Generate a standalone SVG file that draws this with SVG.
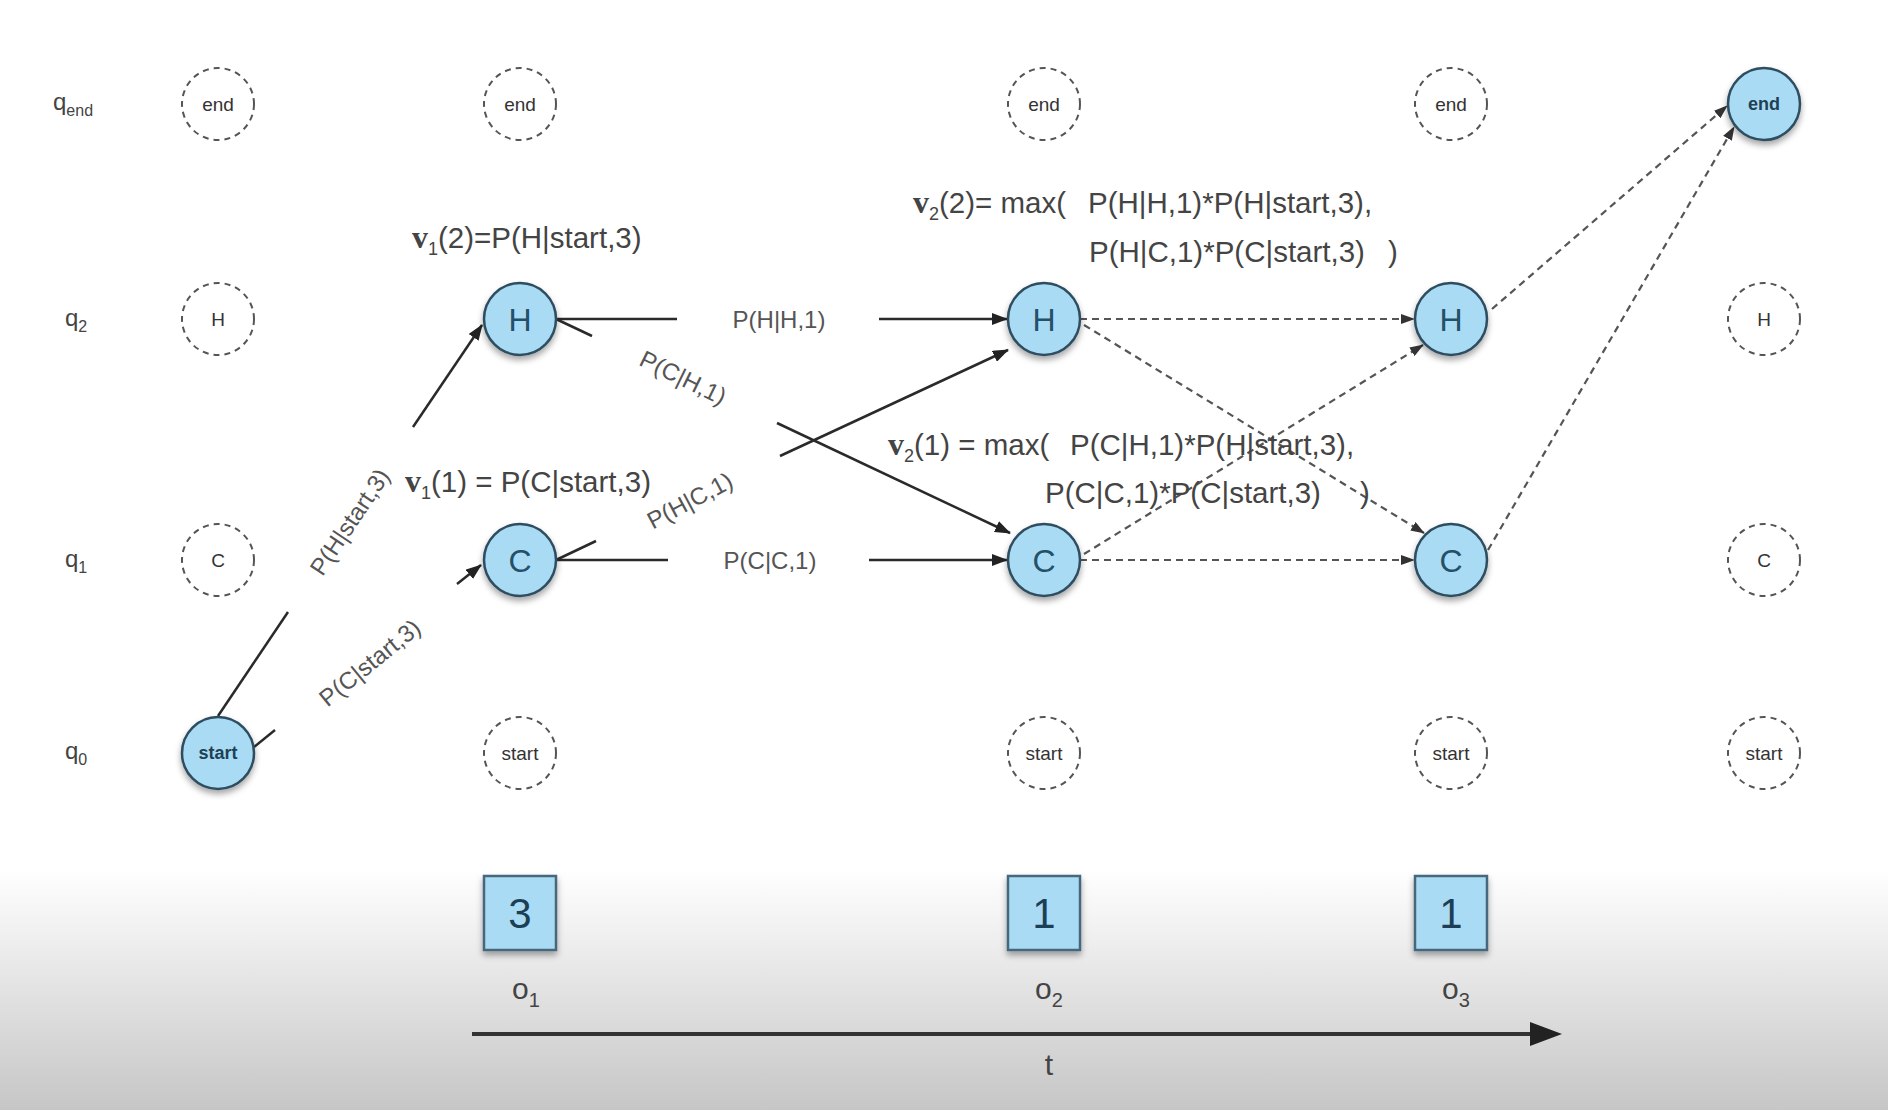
<svg xmlns="http://www.w3.org/2000/svg" width="1888" height="1110" viewBox="0 0 1888 1110">
<defs>
<linearGradient id="bg" x1="0" y1="0" x2="0" y2="1">
<stop offset="0" stop-color="#ffffff"/>
<stop offset="1" stop-color="#c6c6c6"/>
</linearGradient>
<filter id="sh" x="-30%" y="-30%" width="160%" height="170%">
<feDropShadow dx="0" dy="4" stdDeviation="3" flood-color="#000" flood-opacity="0.35"/>
</filter>
<marker id="ah" markerWidth="16" markerHeight="12" refX="15" refY="6" orient="auto" markerUnits="userSpaceOnUse">
<path d="M0,0 L16,6 L0,12 z" fill="#222"/>
</marker>
<marker id="ahd" markerWidth="14" markerHeight="10" refX="13" refY="5" orient="auto" markerUnits="userSpaceOnUse">
<path d="M0,0 L14,5 L0,10 z" fill="#333"/>
</marker>
</defs>
<style>
.dn{fill:none;stroke:#555;stroke-width:2;stroke-dasharray:6 5}
.fn{fill:#a9dcf4;stroke:#2e4d60;stroke-width:2.5;filter:url(#sh)}
.dt{font-family:"Liberation Sans",Arial,sans-serif;font-size:19px;fill:#333;text-anchor:middle}
.ft{font-family:"Liberation Sans",Arial,sans-serif;font-size:32px;fill:#245069;text-anchor:middle}
.fts{font-family:"Liberation Sans",Arial,sans-serif;font-size:18px;font-weight:bold;fill:#1f4055;text-anchor:middle}
.e{stroke:#2a2a2a;stroke-width:2.5;fill:none}
.ed{stroke:#555;stroke-width:2.2;fill:none;stroke-dasharray:7 5}
.lbl{font-family:"Liberation Sans",Arial,sans-serif;font-size:24px;fill:#555;text-anchor:middle}
.ann{font-family:"Liberation Sans",Arial,sans-serif;font-size:29.5px;fill:#444}
.v{font-family:"Liberation Serif",serif;font-weight:bold;font-size:32px}
.q{font-family:"Liberation Sans",Arial,sans-serif;font-size:24px;fill:#444}
.box{fill:#a9dcf4;stroke:#46677c;stroke-width:2.5;filter:url(#sh)}
.bt{font-family:"Liberation Sans",Arial,sans-serif;font-size:42px;fill:#1d3f55;text-anchor:middle}
.o{font-family:"Liberation Sans",Arial,sans-serif;font-size:30px;fill:#444}
</style>
<rect x="0" y="0" width="1888" height="1110" fill="#ffffff"/>
<rect x="0" y="870" width="1888" height="240" fill="url(#bg)"/>

<g id="row-labels">
<text class="q" x="53" y="110">q<tspan font-size="16" dy="6">end</tspan></text>
<text class="q" x="65" y="326">q<tspan font-size="16" dy="6">2</tspan></text>
<text class="q" x="65" y="567">q<tspan font-size="16" dy="6">1</tspan></text>
<text class="q" x="65" y="759">q<tspan font-size="16" dy="6">0</tspan></text>
</g>

<g id="connectors">
<line class="e" x1="218" y1="716" x2="288" y2="612"/>
<line class="e" x1="413" y1="427" x2="482" y2="325" marker-end="url(#ah)"/>
<line class="e" x1="254" y1="747" x2="275" y2="730"/>
<line class="e" x1="457" y1="584" x2="481" y2="565" marker-end="url(#ah)"/>
<line class="e" x1="556" y1="319" x2="677" y2="319"/>
<line class="e" x1="879" y1="319" x2="1007" y2="319" marker-end="url(#ah)"/>
<line class="e" x1="556" y1="319" x2="592" y2="336"/>
<line class="e" x1="777" y1="423" x2="1010" y2="533" marker-end="url(#ah)"/>
<line class="e" x1="556" y1="560" x2="596" y2="541"/>
<line class="e" x1="780" y1="456" x2="1008" y2="350" marker-end="url(#ah)"/>
<line class="e" x1="556" y1="560" x2="668" y2="560"/>
<line class="e" x1="869" y1="560" x2="1007" y2="560" marker-end="url(#ah)"/>
<line class="ed" x1="1080" y1="319" x2="1414" y2="319" marker-end="url(#ahd)"/>
<line class="ed" x1="1084" y1="325" x2="1424" y2="533" marker-end="url(#ahd)"/>
<line class="ed" x1="1084" y1="554" x2="1423" y2="345" marker-end="url(#ahd)"/>
<line class="ed" x1="1080" y1="560" x2="1414" y2="560" marker-end="url(#ahd)"/>
<line class="ed" x1="1492" y1="309" x2="1727" y2="106" marker-end="url(#ahd)"/>
<line class="ed" x1="1488" y1="550" x2="1734" y2="127" marker-end="url(#ahd)"/>
<text class="lbl" x="779" y="328">P(H|H,1)</text>
<text class="lbl" x="770" y="569">P(C|C,1)</text>
<text class="lbl" transform="translate(683,378) rotate(26)" x="0" y="8">P(C|H,1)</text>
<text class="lbl" transform="translate(690,501) rotate(-28)" x="0" y="8">P(H|C,1)</text>
<text class="lbl" transform="translate(350,522) rotate(-56)" x="0" y="8">P(H|start,3)</text>
<text class="lbl" transform="translate(370,663) rotate(-39)" x="0" y="8">P(C|start,3)</text>
</g>

<g id="node-end-1"><circle class="dn" cx="218" cy="104" r="36"/><text class="dt" x="218" y="111">end</text></g>
<g id="node-H-1"><circle class="dn" cx="218" cy="319" r="36"/><text class="dt" x="218" y="326">H</text></g>
<g id="node-C-1"><circle class="dn" cx="218" cy="560" r="36"/><text class="dt" x="218" y="567">C</text></g>
<g id="node-start-1"><circle class="fn" cx="218" cy="753" r="36"/><text class="fts" x="218" y="759">start</text></g>

<g id="node-end-2"><circle class="dn" cx="520" cy="104" r="36"/><text class="dt" x="520" y="111">end</text></g>
<g id="node-H-2"><circle class="fn" cx="520" cy="319" r="36"/><text class="ft" x="520" y="331">H</text></g>
<g id="node-C-2"><circle class="fn" cx="520" cy="560" r="36"/><text class="ft" x="520" y="572">C</text></g>
<g id="node-start-2"><circle class="dn" cx="520" cy="753" r="36"/><text class="dt" x="520" y="760">start</text></g>

<g id="node-end-3"><circle class="dn" cx="1044" cy="104" r="36"/><text class="dt" x="1044" y="111">end</text></g>
<g id="node-H-3"><circle class="fn" cx="1044" cy="319" r="36"/><text class="ft" x="1044" y="331">H</text></g>
<g id="node-C-3"><circle class="fn" cx="1044" cy="560" r="36"/><text class="ft" x="1044" y="572">C</text></g>
<g id="node-start-3"><circle class="dn" cx="1044" cy="753" r="36"/><text class="dt" x="1044" y="760">start</text></g>

<g id="node-end-4"><circle class="dn" cx="1451" cy="104" r="36"/><text class="dt" x="1451" y="111">end</text></g>
<g id="node-H-4"><circle class="fn" cx="1451" cy="319" r="36"/><text class="ft" x="1451" y="331">H</text></g>
<g id="node-C-4"><circle class="fn" cx="1451" cy="560" r="36"/><text class="ft" x="1451" y="572">C</text></g>
<g id="node-start-4"><circle class="dn" cx="1451" cy="753" r="36"/><text class="dt" x="1451" y="760">start</text></g>

<g id="node-end-5"><circle class="fn" cx="1764" cy="104" r="36"/><text class="fts" x="1764" y="110">end</text></g>
<g id="node-H-5"><circle class="dn" cx="1764" cy="319" r="36"/><text class="dt" x="1764" y="326">H</text></g>
<g id="node-C-5"><circle class="dn" cx="1764" cy="560" r="36"/><text class="dt" x="1764" y="567">C</text></g>
<g id="node-start-5"><circle class="dn" cx="1764" cy="753" r="36"/><text class="dt" x="1764" y="760">start</text></g>

<g id="annotations">
<text class="ann" x="412" y="248"><tspan class="v">v</tspan><tspan font-size="18" dy="7">1</tspan><tspan dy="-7">(2)=P(H|start,3)</tspan></text>
<text class="ann" x="913" y="213"><tspan class="v">v</tspan><tspan font-size="18" dy="7">2</tspan><tspan dy="-7">(2)= max(</tspan></text>
<text class="ann" x="1088" y="213">P(H|H,1)*P(H|start,3),</text>
<text class="ann" x="1089" y="262">P(H|C,1)*P(C|start,3)</text>
<text class="ann" x="1388" y="262">)</text>
<text class="ann" x="405" y="492"><tspan class="v">v</tspan><tspan font-size="18" dy="7">1</tspan><tspan dy="-7">(1) = P(C|start,3)</tspan></text>
<text class="ann" x="888" y="455"><tspan class="v">v</tspan><tspan font-size="18" dy="7">2</tspan><tspan dy="-7">(1) = max(</tspan></text>
<text class="ann" x="1070" y="455">P(C|H,1)*P(H|start,3),</text>
<text class="ann" x="1045" y="503">P(C|C,1)*P(C|start,3)</text>
<text class="ann" x="1360" y="503">)</text>
</g>

<g id="obs-1"><rect class="box" x="484" y="876" width="72" height="74"/><text class="bt" x="520" y="928">3</text><text class="o" x="512" y="999">o<tspan font-size="20" dy="8">1</tspan></text></g>
<g id="obs-2"><rect class="box" x="1008" y="876" width="72" height="74"/><text class="bt" x="1044" y="928">1</text><text class="o" x="1035" y="999">o<tspan font-size="20" dy="8">2</tspan></text></g>
<g id="obs-3"><rect class="box" x="1415" y="876" width="72" height="74"/><text class="bt" x="1451" y="928">1</text><text class="o" x="1442" y="999">o<tspan font-size="20" dy="8">3</tspan></text></g>

<g id="time-axis">
<line x1="472" y1="1034" x2="1532" y2="1034" stroke="#333" stroke-width="4"/>
<path d="M1530,1022 L1562,1034 L1530,1046 z" fill="#222"/>
<text class="o" x="1049" y="1075" text-anchor="middle">t</text>
</g>
</svg>
